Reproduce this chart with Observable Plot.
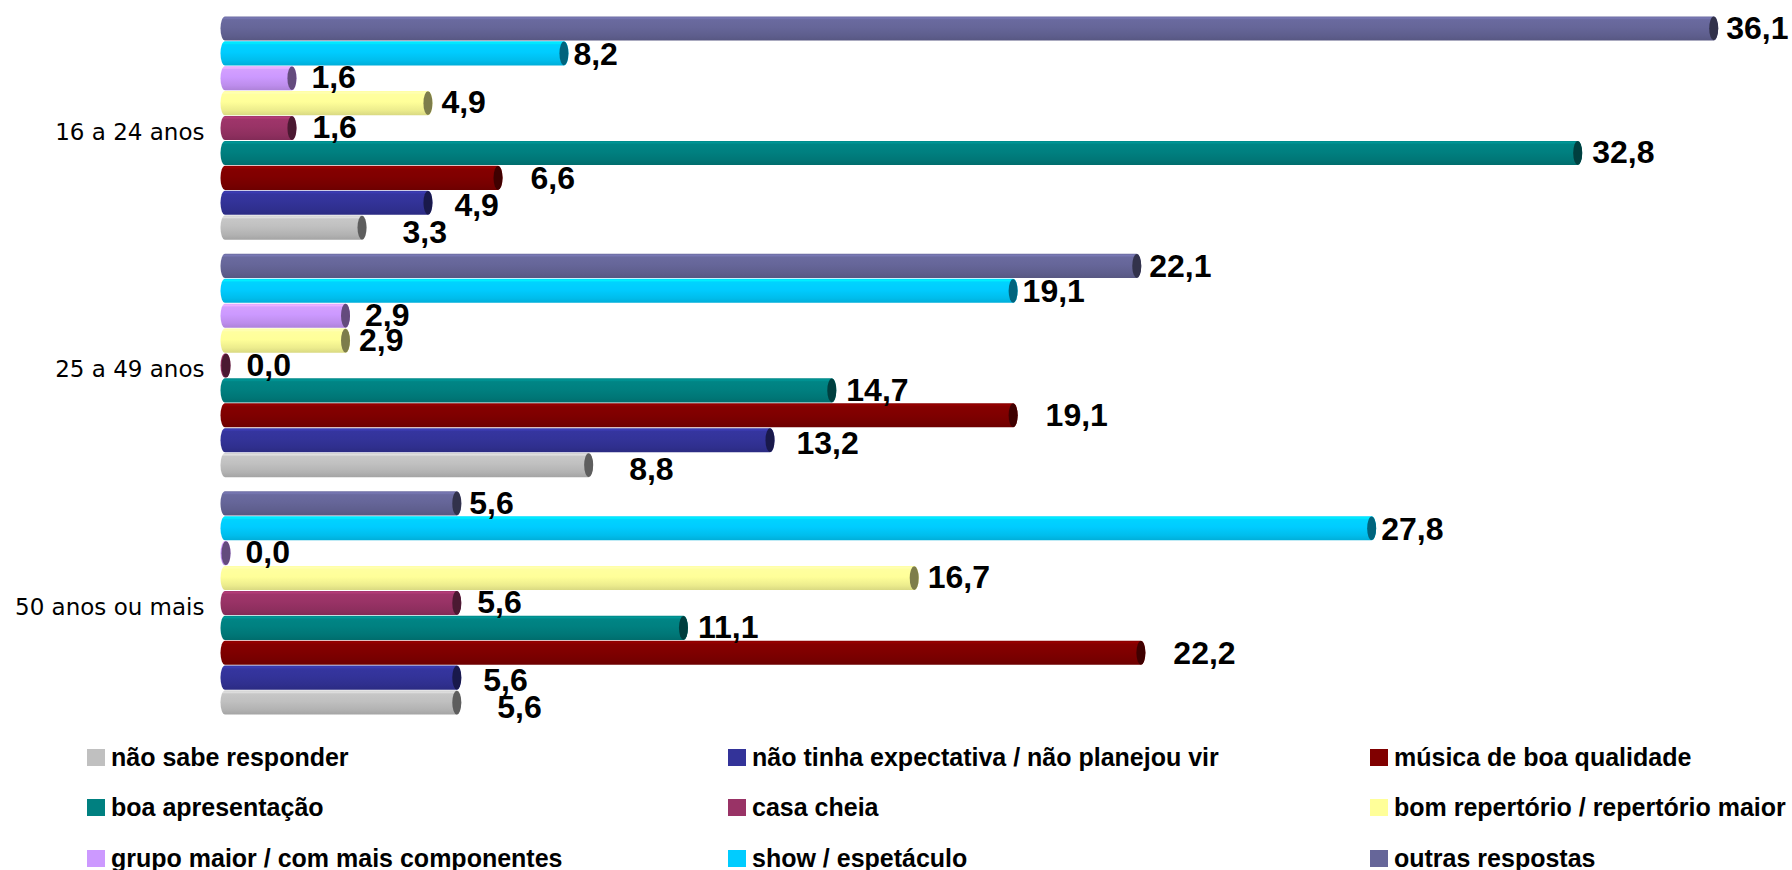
<!DOCTYPE html>
<html>
<head>
<meta charset="utf-8">
<script src="https://cdn.jsdelivr.net/npm/d3@7"></script>
<script src="https://cdn.jsdelivr.net/npm/@observablehq/plot@0.6"></script>
<style>
  html, body { margin: 0; padding: 0; background: #fff; }
  #chart svg { display: block; }
  #legend {
    display: grid;
    grid-template-columns: 641px 642px 420px;
    grid-auto-rows: 50.5px;
    padding-left: 87px;
    padding-top: 2px;
    font-family: "Liberation Sans", Arial, sans-serif;
    font-weight: bold;
    font-size: 25px;
    color: #000;
  }
  #legend .item { display: flex; align-items: center; white-space: nowrap; }
  #legend .sw { width: 18px; height: 17px; margin-right: 6px; flex: none; }
</style>
</head>
<body>
<div id="chart"></div>
<div id="legend"></div>
<script>
// ---- data ----
const groups = ["16 a 24 anos", "25 a 49 anos", "50 anos ou mais"];
const series = [
  "não sabe responder",
  "não tinha expectativa / não planejou vir",
  "música de boa qualidade",
  "boa apresentação",
  "casa cheia",
  "bom repertório / repertório maior",
  "grupo maior / com mais componentes",
  "show / espetáculo",
  "outras respostas"
];
const naoSabe    = [3.3, 8.8, 5.6];
const naoTinha   = [4.9, 13.2, 5.6];
const musica     = [6.6, 19.1, 22.2];
const boaApres   = [32.8, 14.7, 11.1];
const casaCheia  = [1.6, 0.0, 5.6];
const bomRep     = [4.9, 2.9, 16.7];
const grupoMaior = [1.6, 2.9, 0.0];
const showEsp    = [8.2, 19.1, 27.8];
const outras     = [36.1, 22.1, 5.6];
const valuesBySeries = [naoSabe, naoTinha, musica, boaApres, casaCheia, bomRep, grupoMaior, showEsp, outras];

// ---- styles ----
const colors = ["#C0C0C0", "#333399", "#800000", "#008080", "#993366", "#FFFF99", "#CC99FF", "#00CCFF", "#666699"];
// label offsets per series (3D-style label placement)
const labelDx = [40, 26, 32, 14, 20, 13, 19, 9, 12];
const labelDy = [4.4, 2.7, 0.2, -0.4, -0.3, -0.5, -0.5, 0.6, 0.3];

const rows = [];
series.forEach((s, i) => groups.forEach((g, j) => rows.push({group: g, series: s, si: i, value: valuesBySeries[i][j]})));

const fmt = v => d3.format(".1f")(v).replace(".", ",");
const yOrder = series.slice().reverse();

const marks = [];
series.forEach((s, i) => {
  const data = rows.filter(r => r.si === i);
  // cylinder body
  marks.push(Plot.barX(data, {
    x1: () => 0, x2: "value", y: "series", fy: "group",
    fill: `url(#grad${i})`,
    insetLeft: -5.5, insetRight: -4.5, insetTop: 0.4, insetBottom: 0.4,
    rx: 4.5, ry: 12
  }));
  // end cap
  marks.push(Plot.barX(data, {
    x1: "value", x2: "value", y: "series", fy: "group",
    fill: d3.color(colors[i]).darker(2).formatHex(),
    insetLeft: -4.5, insetRight: -4.5, insetTop: 0.6, insetBottom: 0.6,
    rx: 4.5, ry: 12
  }));
  // value label
  marks.push(Plot.text(data, {
    x: "value", y: "series", fy: "group",
    text: d => fmt(d.value),
    textAnchor: "start",
    dx: labelDx[i], dy: labelDy[i],
    fontSize: 32, fontWeight: "bold",
    fontFamily: "'Liberation Sans', Arial, sans-serif",
    fill: "#000"
  }));
});

const chart = Plot.plot({
  width: 1792,
  height: 730,
  marginLeft: 226,
  marginRight: 0,
  marginTop: 16,
  marginBottom: 15,
  style: {fontFamily: "'DejaVu Sans', Verdana, sans-serif", fontSize: "23px", color: "#000", background: "#fff"},
  x: {domain: [0, 38], axis: null},
  y: {domain: yOrder, axis: null, padding: 0, round: false},
  fy: {domain: groups, paddingInner: 0.0564, paddingOuter: 0, round: false, axis: "left", tickSize: 0, tickPadding: 22, label: null},
  marks
});

// gradients for the cylinder look
const svg = d3.select(chart.tagName === "svg" ? chart : chart.querySelector("svg"));
const defs = svg.insert("defs", ":first-child");
colors.forEach((c, i) => {
  const base = d3.color(c);
  const g = defs.append("linearGradient").attr("id", `grad${i}`)
    .attr("x1", 0).attr("y1", 0).attr("x2", 0).attr("y2", 1);
  const stops = [
    [0, base.brighter(0.15)],
    [0.07, base.brighter(0.45)],
    [0.14, base.brighter(0.1)],
    [0.45, base],
    [0.8, base.darker(0.22)],
    [1, base.darker(0.45)]
  ];
  stops.forEach(([o, col]) => g.append("stop").attr("offset", o).attr("stop-color", col.formatHex()));
});
// nudge the facet labels slightly down, as in the reference
svg.selectAll("[aria-label='fy-axis tick label'] text, [aria-label='fy-axis tick label']")
  .filter(function() { return this.tagName === "g"; })
  .attr("transform", function() { const t = this.getAttribute("transform") || ""; return t + " translate(0,4)"; });

document.getElementById("chart").appendChild(chart);

// legend
const legend = d3.select("#legend");
series.forEach((s, i) => {
  const it = legend.append("div").attr("class", "item");
  it.append("span").attr("class", "sw").style("background", colors[i]);
  it.append("span").text(s);
});
</script>
</body>
</html>
